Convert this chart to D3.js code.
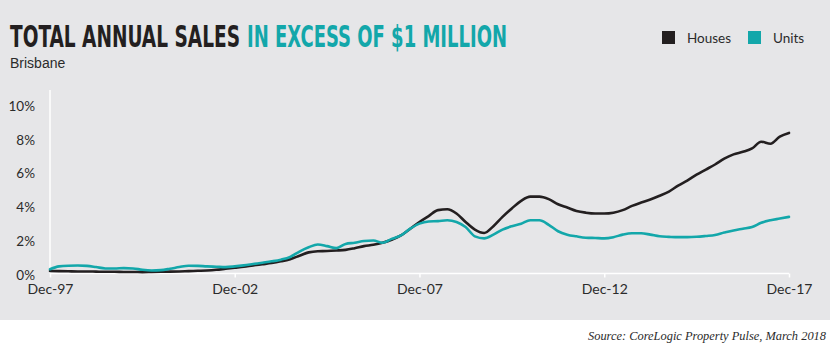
<!DOCTYPE html>
<html>
<head>
<meta charset="utf-8">
<script src="https://cdn.jsdelivr.net/npm/d3@7"></script>
<style>
  html, body { margin: 0; padding: 0; background: #fff; }
  svg { display: block; }
</style>
</head>
<body>
<div id="chart"></div>
<script>
// quarterly readings, Dec-97 .. Dec-17 (share of sales over $1m, %)
const houses = [
  0.15, 0.14, 0.13, 0.12, 0.12, 0.11, 0.10, 0.10, 0.09, 0.09,
  0.08, 0.09, 0.10, 0.11, 0.12, 0.14, 0.16, 0.18, 0.22, 0.28,
  0.34, 0.40, 0.48, 0.55, 0.62, 0.72, 0.85, 1.05, 1.25, 1.32,
  1.33, 1.36, 1.40, 1.50, 1.62, 1.70, 1.82, 2.00, 2.25, 2.65,
  3.05, 3.40, 3.75, 3.80, 3.55, 3.05, 2.60, 2.40, 2.80, 3.35,
  3.85, 4.30, 4.55, 4.55, 4.40, 4.10, 3.90, 3.70, 3.60, 3.55,
  3.55, 3.60, 3.75, 4.00, 4.20, 4.38, 4.60, 4.85, 5.20, 5.50,
  5.85, 6.15, 6.45, 6.80, 7.05, 7.20, 7.40, 7.80, 7.68, 8.10,
  8.32
];
const units = [
  0.25, 0.42, 0.46, 0.47, 0.45, 0.38, 0.30, 0.30, 0.32, 0.30,
  0.22, 0.18, 0.20, 0.28, 0.38, 0.46, 0.45, 0.42, 0.40, 0.38,
  0.42, 0.48, 0.56, 0.64, 0.72, 0.82, 0.98, 1.30, 1.55, 1.72,
  1.62, 1.50, 1.75, 1.82, 1.92, 1.95, 1.82, 2.05, 2.25, 2.65,
  2.95, 3.08, 3.10, 3.15, 3.05, 2.75, 2.20, 2.08, 2.30, 2.60,
  2.80, 2.95, 3.15, 3.15, 2.88, 2.50, 2.30, 2.20, 2.12, 2.10,
  2.08, 2.15, 2.30, 2.38, 2.38, 2.30, 2.20, 2.17, 2.15, 2.15,
  2.17, 2.22, 2.28, 2.42, 2.55, 2.65, 2.75, 3.00, 3.15, 3.25,
  3.35
];
const xTickLabels = ["Dec-97", "Dec-02", "Dec-07", "Dec-12", "Dec-17"];
const yTicks = [0, 2, 4, 6, 8, 10];
const seriesNames = ["Houses", "Units"];
const seriesColors = ["#231f20", "#13a7aa"];

const width = 830, height = 348;
const start = new Date(1997, 11, 1);
const end = new Date(2017, 11, 1);
// one date per reading, every 3 months from Dec-97
const quarters = houses.map((d, i) => d3.timeMonth.offset(start, i * 3));

const svg = d3.select("#chart").append("svg")
    .attr("width", width)
    .attr("height", height);

// grey panel
svg.append("rect")
    .attr("width", width)
    .attr("height", 320)
    .attr("fill", "#e6e6e8");

// title, two parts; small font stretched tall to get the condensed look
const titleFont = "'Liberation Sans Narrow', 'DejaVu Sans Condensed', sans-serif";
const titleParts = [
    { text: "TOTAL ANNUAL SALES", x: 10, len: 230, color: "#231f20" },
    { text: "IN EXCESS OF $1 MILLION", x: 247, len: 260, color: "#13a7aa" }
];
titleParts.forEach(p => {
    svg.append("text")
        .attr("transform", `translate(${p.x},47) scale(1,1.36)`)
        .attr("font-family", titleFont)
        .attr("font-weight", "bold")
        .attr("font-size", 22)
        .attr("fill", p.color)
        .attr("textLength", p.len)
        .attr("lengthAdjust", "spacingAndGlyphs")
        .text(p.text);
});

svg.append("text")
    .attr("x", 10)
    .attr("y", 68)
    .attr("font-family", "'Liberation Sans', Arial, sans-serif")
    .attr("font-size", 14)
    .attr("fill", "#2b2b2b")
    .text("Brisbane");

// legend
const legend = svg.append("g").attr("class", "legend");
const legendX = [662, 748];
seriesNames.forEach((name, i) => {
    legend.append("rect")
        .attr("x", legendX[i])
        .attr("y", 31)
        .attr("width", 13)
        .attr("height", 13)
        .attr("fill", seriesColors[i]);
    legend.append("text")
        .attr("x", legendX[i] + 25)
        .attr("y", 43)
        .attr("font-family", "Lato, sans-serif")
        .attr("font-size", 13.5)
        .attr("fill", "#2b2b2b")
        .text(name);
});

// scales
const x = d3.scaleTime().domain([start, end]).range([50, 789]);
const y = d3.scaleLinear().domain([0, 10]).range([273.5, 104.5]);

// axes
svg.append("line")
    .attr("x1", 50).attr("x2", 50)
    .attr("y1", 90).attr("y2", y(0))
    .attr("stroke", "#fff")
    .attr("stroke-width", 1.5);

const xTickDates = xTickLabels.map((d, i) => d3.timeYear.offset(start, i * 5));
const xAxis = d3.axisBottom(x)
    .tickValues(xTickDates)
    .tickSize(4)
    .tickPadding(7)
    .tickFormat((d, i) => xTickLabels[i]);

const gx = svg.append("g")
    .attr("transform", `translate(0,${y(0)})`)
    .call(xAxis);
gx.select(".domain").attr("stroke", "#fff").attr("stroke-width", 1.5).attr("d", `M50,0H789`);
gx.selectAll(".tick line").attr("stroke", "#fff").attr("stroke-width", 1.5);
gx.selectAll(".tick text")
    .attr("font-family", "Lato, sans-serif")
    .attr("font-size", 14)
    .attr("fill", "#2b2b2b");

const yAxis = d3.axisLeft(y)
    .tickValues(yTicks)
    .tickSize(0)
    .tickPadding(15)
    .tickFormat(d => d + "%");
const gy = svg.append("g")
    .attr("transform", "translate(50,1.5)")
    .call(yAxis);
gy.select(".domain").remove();
gy.selectAll(".tick text")
    .attr("font-family", "Lato, sans-serif")
    .attr("font-size", 13.5)
    .attr("fill", "#2b2b2b");

// lines
const line = d3.line()
    .x((d, i) => x(quarters[i]))
    .y(d => y(d))
    .curve(d3.curveMonotoneX);

[houses, units].forEach((values, i) => {
    svg.append("path")
        .datum(values)
        .attr("fill", "none")
        .attr("stroke", seriesColors[i])
        .attr("stroke-width", 2.6)
        .attr("stroke-linejoin", "round")
        .attr("stroke-linecap", "round")
        .attr("d", line);
});

// source
svg.append("text")
    .attr("x", 826)
    .attr("y", 340)
    .attr("text-anchor", "end")
    .attr("font-family", "'Liberation Serif', serif")
    .attr("font-style", "italic")
    .attr("font-size", 11.5)
    .attr("fill", "#2b2b2b")
    .attr("textLength", 238)
    .attr("lengthAdjust", "spacingAndGlyphs")
    .text("Source: CoreLogic Property Pulse, March 2018");
</script>
</body>
</html>
